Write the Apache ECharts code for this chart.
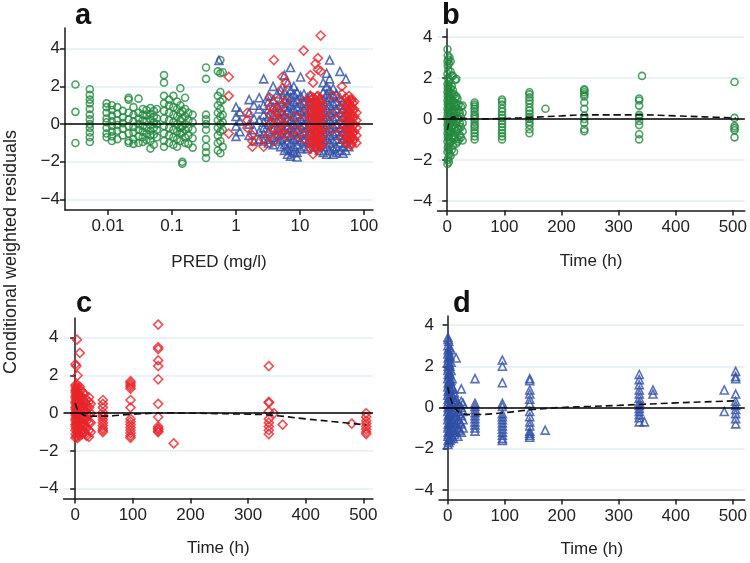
<!DOCTYPE html>
<html><head><meta charset="utf-8">
<script src="https://cdn.jsdelivr.net/npm/echarts@6/dist/echarts.min.js"></script>
<style>html,body{margin:0;padding:0;background:#fff}#c{width:750px;height:563px}</style>
</head><body><div id="c"></div>
<script>
// ---------- Panel a: CWRES vs PRED (log x) ----------
const predGreen = [0.0031, 0.0052, 0.0095, 0.0115, 0.014, 0.017, 0.021, 0.025, 0.03, 0.035, 0.04, 0.046, 0.052, 0.058, 0.075, 0.09, 0.105, 0.12, 0.135, 0.145, 0.16, 0.18, 0.21, 0.34, 0.52, 0.57, 0.62];
const cwresGreenA = [
  [2.1, 0.65, -1.0],
  [1.85, 1.55, 1.3, 1.1, 0.8, 0.5, 0.25, 0.0, -0.2, -0.45, -0.7, -0.95],
  [1.1, 0.9, 0.6, 0.3, 0.1, -0.2, -0.5, -0.7],
  [1.0, 0.75, 0.45, 0.15, -0.1, -0.4, -0.65, -0.9],
  [0.9, 0.55, 0.2, -0.05, -0.35, -0.8],
  [0.7, 0.35, 0.05, -0.25, -0.6],
  [1.4, 1.3, 0.6, 0.25, -0.1, -0.5, -0.9, -1.0],
  [0.9, 0.5, 0.15, -0.15, -0.45, -0.8, -1.05],
  [1.35, 0.6, 0.3, 0.0, -0.3, -0.65, -1.0],
  [0.8, 0.5, 0.2, -0.1, -0.4, -0.7, -0.95],
  [0.75, 0.45, 0.15, -0.2, -0.5, -0.85],
  [0.85, 0.55, 0.25, -0.05, -0.35, -0.6, -0.9, -1.3],
  [0.7, 0.4, 0.1, -0.2, -0.55, -1.1],
  [0.8, 0.3, 0.0, -0.3, -0.7],
  [2.6, 2.2, 1.5, 1.1, 0.7, 0.3, -0.1, -0.5, -0.9, -1.2],
  [1.3, 1.0, 0.6, 0.2, -0.2, -0.6, -1.0],
  [1.5, 0.9, 0.5, 0.1, -0.3, -0.7, -1.1],
  [1.2, 0.8, 0.4, 0.0, -0.4, -0.8, -1.2],
  [1.9, 1.0, 0.6, 0.2, -0.2, -0.5, -0.9],
  [0.7, 0.3, -0.1, -0.45, -2.0, -2.1],
  [1.4, 0.8, 0.4, 0.0, -0.3, -0.7, -1.0],
  [0.6, 0.2, -0.2, -0.6, -1.05],
  [0.5, 0.1, -0.3, -0.75, -1.25],
  [3.0, 2.4, 0.5, 0.25, 0.0, -0.3, -0.8, -1.2, -1.5, -1.8],
  [2.8, 1.5, 1.0, 0.6, 0.2, -0.2, -0.6, -1.0, -1.4],
  [3.4, 2.7, 1.7, 1.2, 0.8, 0.4, 0.0, -0.4, -0.9, -1.55],
  [2.75, 1.3, 0.5, 0.1, -0.3, -1.2]
];
const predBlue = [0.54, 1.0, 1.15, 1.6, 1.9, 2.3, 2.7, 3.2, 3.8, 4.4, 5.0, 5.7, 6.4, 7.1, 8.0, 9.0, 10.2, 11.5, 13, 14.5, 17, 20, 23, 26, 29, 33, 37, 42, 47, 52, 58];
const cwresBlueA = [
  [3.38],
  [0.9, 0.4, -0.1, -0.65],
  [0.65, 0.15, -0.4],
  [1.3, 0.6, 0.0, -0.6],
  [1.0, 0.3, -0.3, -0.9],
  [1.4, 0.8, 0.2, -0.4, -0.8],
  [2.4, 1.0, 0.5, 0.1, -0.2, -0.5, -0.9],
  [1.5, 1.2, 0.8, 0.4, 0.0, -0.4, -0.8, -1.0],
  [2.0, 1.3, 0.9, 0.5, 0.1, -0.3, -0.7, -1.1],
  [1.6, 1.0, 0.6, 0.2, -0.2, -0.6, -0.9],
  [1.8, 1.2, 0.7, 0.3, -0.1, -0.5, -0.8, -1.2],
  [2.6, 1.7, 1.3, 0.9, 0.5, 0.1, -0.3, -0.7, -1.1, -1.4],
  [2.2, 1.5, 1.1, 0.7, 0.3, -0.1, -0.5, -0.9, -1.3, -1.6],
  [3.0, 1.8, 1.4, 1.0, 0.6, 0.2, -0.2, -0.6, -1.0, -1.4, -1.7],
  [2.0, 1.6, 1.2, 0.8, 0.4, 0.0, -0.4, -0.8, -1.2, -1.5],
  [1.7, 1.3, 0.9, 0.5, 0.1, -0.3, -0.7, -1.1, -1.5, -1.75],
  [2.5, 1.5, 1.1, 0.7, 0.3, -0.1, -0.5, -0.9, -1.3],
  [1.6, 1.2, 0.8, 0.4, 0.0, -0.4, -0.8, -1.2],
  [1.4, 1.0, 0.6, 0.2, -0.2, -0.6, -1.0, -1.3],
  [1.5, 1.1, 0.7, 0.3, -0.1, -0.5, -0.9],
  [1.2, 0.8, 0.4, 0.0, -0.4, -0.8, -1.2],
  [1.4, 1.0, 0.6, 0.2, -0.2, -0.6, -1.0, -1.4],
  [2.2, 1.7, 1.3, 0.9, 0.5, 0.1, -0.3, -0.7, -1.1, -1.5],
  [2.7, 2.0, 1.6, 1.2, 0.8, 0.4, 0.0, -0.4, -0.8, -1.2, -1.6],
  [3.4, 2.4, 1.8, 1.4, 1.0, 0.6, 0.2, -0.2, -0.6, -1.0, -1.4],
  [1.9, 1.5, 1.1, 0.7, 0.3, -0.1, -0.5, -0.9, -1.3, -1.6],
  [1.6, 1.2, 0.8, 0.4, 0.0, -0.4, -0.8, -1.2, -1.5],
  [2.8, 1.4, 1.0, 0.6, 0.2, -0.2, -0.6, -1.0, -1.4],
  [1.2, 0.8, 0.4, 0.0, -0.4, -0.8, -1.2, -1.55],
  [2.4, 1.0, 0.6, 0.2, -0.2, -0.6, -1.0, -1.4],
  [0.8, 0.3, -0.2, -0.7, -1.2]
];
const predRed = [0.77, 1.5, 1.8, 2.7, 3.4, 3.9, 4.6, 5.3, 6.0, 8.5, 11.4, 14.5, 15.3, 16, 16.8, 17.5, 18.3, 19, 20, 21, 23, 32, 45, 52, 55, 58, 61, 64, 67, 70, 76];
const cwresRedA = [
  [2.5, 1.5, -0.5],
  [0.6, 0.2, -0.2],
  [-0.6, -0.9, -1.2],
  [-0.8, -1.2],
  [1.4, 0.9, 0.5, 0.0, -0.5],
  [3.4, 0.8, 0.3, -0.3, -0.9],
  [1.3, 0.7, 0.2, -0.4],
  [2.5, 1.9, 1.0, 0.5, 0.0, -0.5],
  [2.2, 1.2, 0.3, -0.2, -0.6],
  [0.4, -0.3, -0.6],
  [3.9, 1.2, 0.5, -0.2, -0.8],
  [2.6, 1.5, 1.1, 0.7, 0.3, -0.1, -0.5, -0.9, -1.3],
  [1.3, 0.9, 0.5, 0.1, -0.3, -0.7, -1.1],
  [2.2, 1.4, 1.0, 0.6, 0.2, -0.2, -0.6, -1.0, -1.6],
  [1.2, 0.8, 0.4, 0.0, -0.4, -0.8, -1.2],
  [3.2, 1.3, 0.9, 0.5, 0.1, -0.3, -0.7, -1.1],
  [1.45, 1.05, 0.65, 0.25, -0.15, -0.55, -0.95, -1.35],
  [3.5, 2.9, 1.5, 1.1, 0.7, 0.3, -0.1, -0.5, -0.9, -1.3],
  [1.3, 0.9, 0.5, 0.1, -0.3, -0.7, -1.1],
  [4.7, 2.8, 1.2, 0.8, 0.4, 0.0, -0.4, -0.8, -1.2],
  [1.0, 0.6, 0.2, -0.2, -0.6, -1.0],
  [1.5, 0.5, -0.3],
  [2.0, 1.6, 1.2, 0.8, 0.4, 0.0, -0.4, -0.8],
  [1.4, 1.0, 0.6, 0.2, -0.2, -0.6, -1.0],
  [1.2, 0.8, 0.4, 0.0, -0.4, -0.8],
  [1.5, 1.1, 0.7, 0.3, -0.1, -0.5, -0.9],
  [1.3, 0.9, 0.5, 0.1, -0.3, -0.7, -1.1],
  [1.3, 0.9, 0.5, 0.1, -0.3, -0.7, -1.1],
  [1.1, 0.7, 0.3, -0.1, -0.5, -0.9],
  [1.2, 0.8, 0.4, 0.0, -0.4, -0.8],
  [0.6, 0.2, -0.2, -0.6, -1.0]
];

// ---------- Panel b: green, CWRES vs time ----------
const timeB = [0.5, 1, 2, 3, 4, 6, 8, 10, 12, 14, 16, 18, 20, 22, 24, 27, 48, 96, 144, 172, 240, 336, 341, 503];
const cwresB = [
  [-2.2, -1.6, -1.1, -0.7, -0.3, 0.1, 0.5, 0.9, 1.3, 1.7, 2.2, 2.8, 3.4],
  [-2.0, -1.4, -0.9, -0.5, -0.1, 0.3, 0.7, 1.1, 1.5, 2.0, 2.6, 3.1],
  [-1.9, -1.3, -0.8, -0.4, 0.0, 0.4, 0.8, 1.2, 1.6, 2.4, 2.9],
  [-2.1, -1.5, -1.0, -0.6, -0.2, 0.2, 0.6, 1.0, 1.4, 1.8, 2.7],
  [-1.7, -1.2, -0.7, -0.3, 0.1, 0.5, 0.9, 1.3, 1.9, 3.0],
  [-1.8, -1.1, -0.6, -0.2, 0.2, 0.6, 1.0, 1.5, 2.3, 2.8],
  [-1.5, -0.9, -0.4, 0.0, 0.4, 0.8, 1.2, 1.6, 2.1],
  [-1.3, -0.8, -0.3, 0.1, 0.5, 0.9, 1.4, 2.1],
  [-1.6, -1.0, -0.5, 0.0, 0.4, 0.8, 1.2],
  [-0.9, -0.4, 0.1, 0.6, 1.0, 1.9],
  [-1.2, -0.6, -0.1, 0.3, 0.7, 1.1, 1.95],
  [-1.1, -0.5, 0.0, 0.5, 1.0],
  [-1.0, -0.5, 0.0, 0.4, 0.7],
  [-0.8, -0.2, 0.3],
  [-0.9, -0.4, 0.1, 0.6],
  [-1.05, -0.6, -0.2, 0.3, 0.65],
  [-1.0, -0.85, -0.7, -0.55, -0.4, -0.3, -0.15, 0.0, 0.1, 0.2, 0.35, 0.5, 0.6, 0.7, 0.8],
  [-1.0, -0.85, -0.7, -0.55, -0.4, -0.25, -0.1, 0.05, 0.2, 0.35, 0.5, 0.7, 0.85, 0.95],
  [-0.7, -0.5, -0.3, -0.15, 0.0, 0.1, 0.25, 0.4, 0.55, 0.75, 0.9, 1.05, 1.2, 1.3],
  [0.5],
  [-0.6, -0.5, -0.2, 0.0, 0.15, 0.5, 0.8, 1.1, 1.2, 1.3, 1.4, 1.45],
  [-1.0, -0.75, -0.3, -0.1, 0.1, 0.2, 0.65, 0.9, 1.0],
  [2.1],
  [1.8, 0.05, -0.35, -0.45, -0.55, -0.9]
];
const smoothTimeB = [0, 5, 10, 20, 50, 100, 150, 200, 240, 300, 340, 400, 450, 505];
const smoothB = [-0.55, -0.05, 0.1, 0.05, 0.0, 0.02, 0.08, 0.15, 0.2, 0.2, 0.2, 0.15, 0.1, 0.05];

// ---------- Panel c: red, CWRES vs time ----------
const timeC = [0.5, 1, 2, 3, 4, 6, 8, 10, 12, 14, 16, 18, 20, 24, 27, 48, 96, 144, 171, 336, 345, 360, 480, 505];
const cwresC = [
  [-1.3, -0.9, -0.6, -0.3, 0.0, 0.3, 0.6, 0.9, 1.2, 1.5, 2.6],
  [-1.1, -0.7, -0.4, -0.1, 0.2, 0.5, 0.8, 1.1, 1.4],
  [-1.2, -0.8, -0.5, -0.2, 0.1, 0.4, 0.7, 1.0, 1.3, 2.5],
  [-1.0, -0.6, -0.3, 0.0, 0.3, 0.6, 0.9, 1.2, 3.9],
  [-1.3, -0.9, -0.5, -0.1, 0.2, 0.5, 0.8, 1.1, 1.5, 2.0],
  [-1.1, -0.7, -0.4, 0.0, 0.4, 0.7, 1.0, 1.3],
  [-1.2, -0.8, -0.4, -0.1, 0.2, 0.6, 1.0, 1.4, 3.2],
  [-1.0, -0.6, -0.2, 0.2, 0.5, 0.9, 1.2],
  [-1.1, -0.7, -0.3, 0.1, 0.4, 0.8],
  [-0.9, -0.5, -0.1, 0.3, 0.7, 1.1],
  [-1.0, -0.6, -0.2, 0.2, 0.6, 1.0],
  [-1.1, -0.7, -0.3, 0.1, 0.5],
  [-1.2, -0.8, -0.4, 0.0, 0.4, 0.7],
  [-1.25, -0.9, -0.5, -0.1, 0.3, 0.6, 0.85],
  [-1.0, -0.5, 0.0, 0.5],
  [-1.0, -0.9, -0.8, -0.65, -0.5, -0.35, -0.2, -0.1, 0.05, 0.3, 0.5, 0.7],
  [-1.3, -1.2, -1.05, -0.9, -0.75, -0.6, -0.45, -0.3, 0.3, 0.7, 1.3, 1.4, 1.5, 1.6, 1.7],
  [4.7, 3.5, 3.4, 2.8, 2.5, 1.8, 0.5, -0.2, -0.7, -0.8, -0.85, -0.95, -1.0],
  [-1.6],
  [2.5, 0.6, 0.55, 0.1, -0.3, -0.5, -0.7, -0.9, -1.1],
  [0.0],
  [-0.6],
  [-0.55],
  [0.0, -0.2, -0.4, -0.55, -0.7, -0.85, -1.0, -1.1]
];
const smoothTimeC = [0, 5, 15, 30, 50, 100, 170, 250, 300, 340, 400, 450, 505];
const smoothC = [0.55, 0.15, -0.1, -0.15, -0.15, -0.05, 0.02, -0.02, -0.05, -0.1, -0.3, -0.45, -0.62];

// ---------- Panel d: blue, CWRES vs time ----------
const timeD = [0.5, 1, 2, 3, 4, 6, 8, 10, 12, 15, 18, 21, 24, 27, 48, 96, 144, 171, 336, 345, 360, 485, 505];
const cwresD = [
  [-1.8, -1.4, -1.0, -0.6, -0.2, 0.2, 0.6, 1.0, 1.4, 1.8, 2.2, 2.6, 3.0, 3.4],
  [-1.6, -1.2, -0.8, -0.4, 0.0, 0.4, 0.8, 1.2, 1.6, 2.0, 2.4, 2.8, 3.3],
  [-1.7, -1.3, -0.9, -0.5, -0.1, 0.3, 0.7, 1.1, 1.5, 1.9, 2.3, 2.7, 3.2],
  [-1.5, -1.1, -0.7, -0.3, 0.1, 0.5, 0.9, 1.3, 1.7, 2.1, 2.5, 2.9],
  [-1.6, -1.2, -0.8, -0.4, 0.0, 0.4, 0.8, 1.2, 1.6, 2.0, 2.5],
  [-1.5, -1.1, -0.7, -0.3, 0.1, 0.5, 0.9, 1.3, 1.8, 2.2, 2.8],
  [-1.4, -1.0, -0.6, -0.2, 0.2, 0.6, 1.0, 1.4],
  [-1.5, -1.1, -0.7, -0.3, 0.1, 0.5, 0.9],
  [-1.3, -0.9, -0.5, -0.1, 0.3, 0.7],
  [-1.2, -0.8, -0.4, 0.0, 0.4, 2.4],
  [-1.4, -1.0, -0.6, -0.2, 0.2],
  [-1.1, -0.7, -0.3, 0.1],
  [-1.2, -0.8, -0.4, 0.0, 0.3, 0.9],
  [-1.0, -0.6, -0.2, 0.2],
  [1.4, 0.2, 0.05, -0.1, -0.25, -0.4, -0.55, -0.7, -0.85, -1.0, -1.15],
  [2.3, 2.0, 1.2, 0.2, 0.05, -0.3, -0.45, -0.6, -0.75, -0.9, -1.05, -1.2, -1.35, -1.5, -1.6],
  [1.4, 1.3, 0.85, 0.65, 0.4, 0.2, -0.2, -0.45, -0.7, -0.9, -1.15, -1.25, -1.35, -1.45],
  [-1.1],
  [1.6, 1.35, 1.1, 0.85, 0.65, 0.45, 0.25, 0.1, -0.05, -0.2, -0.35, -0.5, -0.7],
  [-0.7],
  [0.85, 0.65],
  [0.85, -0.2],
  [1.75, 1.5, 1.4, 0.65, 0.3, 0.1, -0.1, -0.3, -0.55, -0.8]
];
const smoothTimeD = [0, 5, 12, 25, 50, 100, 150, 200, 250, 300, 340, 400, 450, 505];
const smoothD = [1.0, 0.45, 0.0, -0.3, -0.35, -0.25, -0.1, 0.0, 0.05, 0.1, 0.15, 0.22, 0.27, 0.32];

const yTicks = [-4, -2, 0, 2, 4];
const logTicks = [0.01, 0.1, 1, 10, 100];
const timeTicks = [0, 100, 200, 300, 400, 500];

// ---------- build ----------
const GREEN = '#23893f', RED = '#e8262b', BLUE = '#2f4fa6', INK = '#1a1a1a';
const FONT = 'Liberation Sans, Arial, Helvetica, sans-serif';

function cols(xs, ys) {
  const out = [];
  xs.forEach((x, i) => ys[i].forEach(v => out.push([x, v])));
  return out;
}
function zip(xs, ys) { return xs.map((x, i) => [x, ys[i]]); }
const minusFmt = v => (v < 0 ? '\u2212' + Math.abs(v) : String(v));

function yAxis(gi, min, max) {
  return {
    type: 'value', gridIndex: gi, min: min, max: max,
    axisLine: { show: true, lineStyle: { color: INK, width: 1.5 } },
    axisTick: { show: true, length: 5, lineStyle: { color: INK, width: 1.5 }, customValues: yTicks },
    axisLabel: { customValues: yTicks, formatter: minusFmt, fontSize: 17, color: '#222', fontFamily: FONT, margin: 5 },
    splitLine: { show: true, lineStyle: { color: '#e2eef2', width: 1.5 } }
  };
}
function timeAxis(gi, min, max, gap) {
  return {
    type: 'value', gridIndex: gi, min: min, max: max,
    name: 'Time (h)', nameLocation: 'middle', nameGap: gap,
    nameTextStyle: { fontSize: 17, color: '#222', fontFamily: FONT },
    axisLine: { show: true, onZero: false, lineStyle: { color: INK, width: 1.5 } },
    axisTick: { show: true, length: 5, lineStyle: { color: INK, width: 1.5 }, customValues: timeTicks },
    axisLabel: { customValues: timeTicks, fontSize: 17, color: '#222', fontFamily: FONT, margin: 8 },
    splitLine: { show: false }
  };
}
const hollow = (c) => ({ color: 'rgba(0,0,0,0)', borderColor: c, borderWidth: 1.6 });
function scatter(xi, yi, data, sym, size, c) {
  return { type: 'scatter', xAxisIndex: xi, yAxisIndex: yi, data: data, symbol: sym, symbolSize: size,
    itemStyle: hollow(c), silent: true, animation: false, z: 2 };
}
function zeroLine(xi, yi) {
  return { type: 'line', xAxisIndex: xi, yAxisIndex: yi, data: [], silent: true, animation: false, z: 4,
    markLine: { silent: true, symbol: 'none', animation: false, label: { show: false },
      lineStyle: { color: '#000', type: 'solid', width: 1.6 }, data: [{ yAxis: 0 }] } };
}
function smoother(xi, yi, data) {
  return { type: 'line', xAxisIndex: xi, yAxisIndex: yi, data: data, smooth: 0.4, showSymbol: false,
    silent: true, animation: false, z: 5,
    lineStyle: { color: '#111', width: 1.6, type: [7, 4] } };
}

const option = {
  backgroundColor: '#fff',
  animation: false,
  textStyle: { fontFamily: FONT },
  grid: [
    { left: 65, top: 28, width: 308, height: 182 },
    { left: 437.5, top: 29, width: 310.5, height: 181.5 },
    { left: 63.5, top: 318, width: 309.5, height: 180.5 },
    { left: 439, top: 316, width: 309, height: 183.5 }
  ],
  xAxis: [
    { type: 'log', logBase: 10, gridIndex: 0, min: 0.00213, max: 138,
      name: 'PRED (mg/l)', nameLocation: 'middle', nameGap: 44,
      nameTextStyle: { fontSize: 17, color: '#222', fontFamily: FONT },
      axisLine: { show: true, onZero: false, lineStyle: { color: INK, width: 1.5 } },
      axisTick: { show: true, length: 5, lineStyle: { color: INK, width: 1.5 }, customValues: logTicks },
      axisLabel: { customValues: logTicks, fontSize: 17, color: '#222', fontFamily: FONT, margin: 8,
        formatter: v => String(+v.toPrecision(3)) },
      splitLine: { show: false }, minorSplitLine: { show: false } },
    timeAxis(1, -17, 521, 42),
    timeAxis(2, -20.3, 516.8, 41),
    timeAxis(3, -15.1, 521, 41)
  ],
  yAxis: [
    yAxis(0, -4.56, 5.1),
    yAxis(1, -4.47, 4.39),
    yAxis(2, -4.52, 5.05),
    yAxis(3, -4.47, 4.44)
  ],
  title: [
    { text: 'a', left: 70, top: -4, textStyle: { fontSize: 29, fontWeight: 'bold', color: '#111', fontFamily: FONT } },
    { text: 'b', left: 437, top: -4, textStyle: { fontSize: 29, fontWeight: 'bold', color: '#111', fontFamily: FONT } },
    { text: 'c', left: 71, top: 284, textStyle: { fontSize: 29, fontWeight: 'bold', color: '#111', fontFamily: FONT } },
    { text: 'd', left: 448, top: 284, textStyle: { fontSize: 29, fontWeight: 'bold', color: '#111', fontFamily: FONT } }
  ],
  graphic: [
    { type: 'text', x: 11, y: 252, rotation: Math.PI / 2,
      style: { text: 'Conditional weighted residuals', fontSize: 18, fill: '#222', fontFamily: FONT,
        align: 'center', verticalAlign: 'middle' } }
  ],
  series: [
    scatter(0, 0, cols(predGreen, cwresGreenA), 'circle', 7, GREEN),
    scatter(0, 0, cols(predBlue, cwresBlueA), 'triangle', 8, BLUE),
    scatter(0, 0, cols(predRed, cwresRedA), 'diamond', 9, RED),
    zeroLine(0, 0),
    scatter(1, 1, cols(timeB, cwresB), 'circle', 7, GREEN),
    zeroLine(1, 1),
    smoother(1, 1, zip(smoothTimeB, smoothB)),
    scatter(2, 2, cols(timeC, cwresC), 'diamond', 9, RED),
    zeroLine(2, 2),
    smoother(2, 2, zip(smoothTimeC, smoothC)),
    scatter(3, 3, cols(timeD, cwresD), 'triangle', 8, BLUE),
    zeroLine(3, 3),
    smoother(3, 3, zip(smoothTimeD, smoothD))
  ]
};
const chart = echarts.init(document.getElementById('c'), null, { renderer: 'canvas' });
chart.setOption(option);
</script>
</body></html>
